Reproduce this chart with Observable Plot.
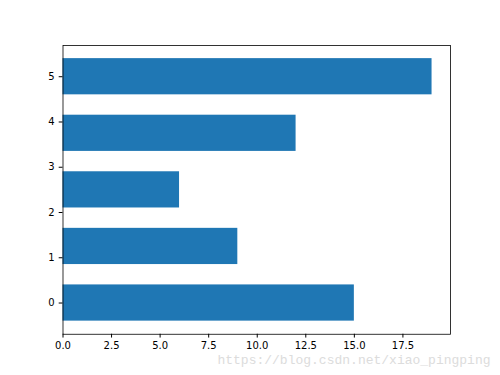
<!DOCTYPE html>
<html>
<head>
<meta charset="utf-8">
<script src="https://cdn.jsdelivr.net/npm/d3@7"></script>
<script src="https://cdn.jsdelivr.net/npm/@observablehq/plot@0.6"></script>
<style>
  html, body { margin: 0; padding: 0; background: #fff; }
  #chart svg { display: block; }
</style>
</head>
<body>
<div id="chart"></div>
<script>
// Data (matplotlib barh at y = linspace(0, 5, 5))
const positions = [0, 1.25, 2.5, 3.75, 5];
const values = [15, 9, 6, 12, 19];
const barHeight = 0.8;
const xTicks = [0, 2.5, 5, 7.5, 10, 12.5, 15, 17.5];
const yTicks = [0, 1, 2, 3, 4, 5];
const watermark = ["https://blog.csdn.net/xiao_pingping"];

const bars = positions.map((p, i) => ({pos: p, value: values[i]}));

const chart = Plot.plot({
  width: 500,
  height: 375,
  marginLeft: 62.5,
  marginRight: 50,
  marginTop: 45,
  marginBottom: 41.25,
  style: {fontFamily: "DejaVu Sans", fontSize: "10px", color: "#000", background: "#fff"},
  x: {domain: [0, 19.95]},
  y: {domain: [-0.69, 5.69]},
  marks: [
    Plot.rectX(bars, {
      x1: 0,
      x2: "value",
      y1: d => d.pos - barHeight / 2,
      y2: d => d.pos + barHeight / 2,
      fill: "#1f77b4"
    }),
    Plot.frame({stroke: "#000", strokeWidth: 0.8}),
    Plot.axisX({ticks: xTicks, tickFormat: d => d.toFixed(1), tickSize: 3.8, tickPadding: 4, label: null, fontSize: 10}),
    Plot.axisY({ticks: yTicks, tickFormat: d => String(d), tickSize: 3.8, tickPadding: 4.5, label: null, fontSize: 10}),
    Plot.text(watermark, {
      text: d => d,
      frameAnchor: "bottom-right",
      textAnchor: "end",
      lineAnchor: "middle",
      dx: 40,
      dy: 26,
      fill: "#dcdcdc",
      fontFamily: "Liberation Mono",
      fontSize: 13
    })
  ]
});

document.getElementById("chart").appendChild(chart);
</script>
</body>
</html>
